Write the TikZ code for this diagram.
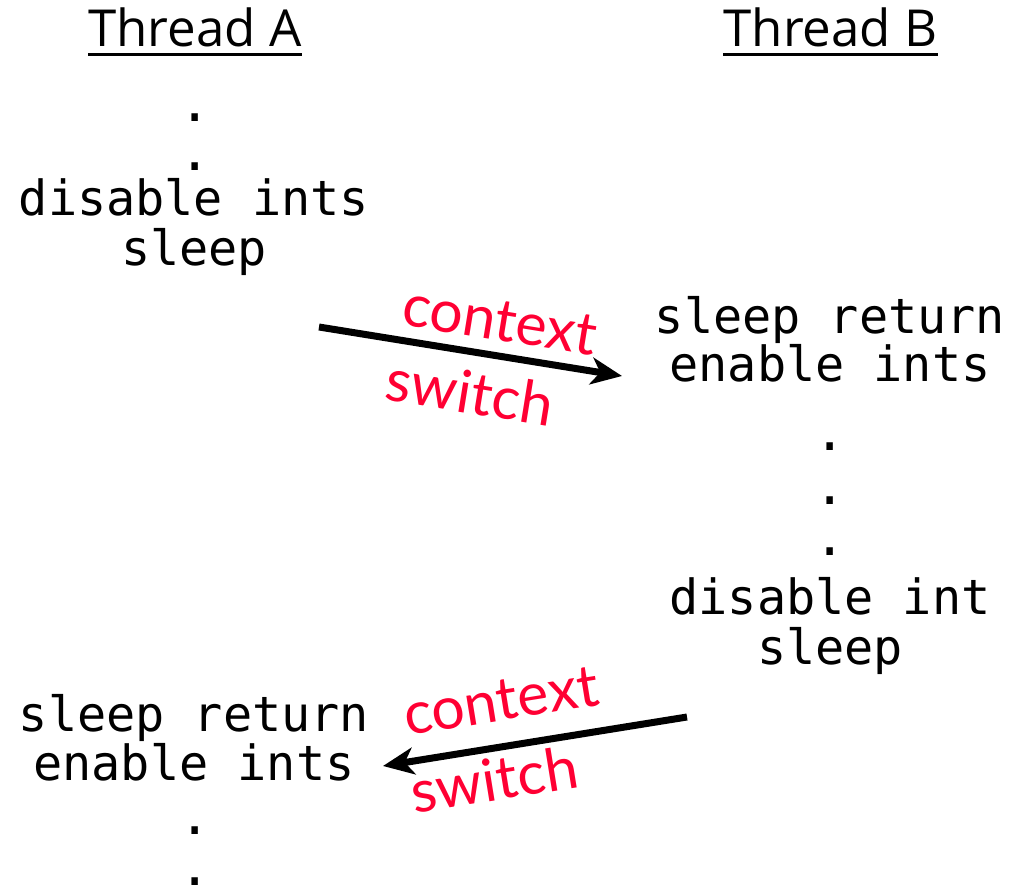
\documentclass[tikz,border=0pt]{standalone}
\usepackage{fontspec}
\setmainfont{DejaVu Sans Mono}
\newfontfamily\headfont{Open Sans}
\newfontfamily\redfont{Lato}
\newfontfamily\codefont{DejaVu Sans Mono}
\usetikzlibrary{arrows.meta}
\definecolor{cred}{RGB}{255,0,51}
\begin{document}
\begin{tikzpicture}[x=1pt,y=1pt,
  code/.style={anchor=base,inner sep=0pt,font=\codefont\fontsize{48.5}{50}\selectfont},
  dotmark/.style={code,font=\codefont\fontsize{52}{54}\selectfont},
  head/.style={anchor=base,inner sep=0pt,font=\headfont\fontsize{51}{54}\selectfont},
  redlbl/.style={inner sep=0pt,text=cred,font=\redfont\fontsize{59}{60}\selectfont},
  uline/.style={line width=2.8pt},
  ctxarrow/.style={line width=7pt,-{Stealth[length=31pt,width=27pt,inset=9pt]}}]
\useasboundingbox (0,0) rectangle (1012,884);
% headers
\node[head] (ta) at (195,837) {Thread A};
\node[head] (tb) at (830.5,837) {Thread B};
\draw[uline] ([yshift=-7.5pt]ta.base west) -- ([yshift=-7.5pt]ta.base east);
\draw[uline] ([yshift=-7.5pt]tb.base west) -- ([yshift=-7.5pt]tb.base east);
% thread A top
\node[dotmark] (a1) at (195,762) {.};
\node[dotmark] (a2) at (195,713) {.};
\node[code] (a3) at (194,668) {disable ints};
\node[code] (a4) at (194,618) {sleep};
% thread B
\node[code] (b1) at (830,550) {sleep return};
\node[code] (b2) at (830,502) {enable ints};
\node[dotmark] (b3) at (830,433) {.};
\node[dotmark] (b4) at (830,379) {.};
\node[dotmark] (b5) at (830,328) {.};
\node[code] (b6) at (830,269) {disable int};
\node[code] (b7) at (830,219) {sleep};
% thread A bottom
\node[code] (c1) at (194,153) {sleep return};
\node[code] (c2) at (194,104) {enable ints};
\node[dotmark] (c3) at (195,50) {.};
\node[dotmark] (c4) at (195,-1) {.};
% arrows
\coordinate (s1) at (319,557);
\coordinate (e1) at (622,508);
\coordinate (s2) at (687,167);
\coordinate (e2) at (383,118);
\draw[ctxarrow] (s1) -- (e1);
\draw[ctxarrow] (s2) -- (e2);
% labels
\node[redlbl,rotate=-9.2] (ctx1) at (500,563) {context};
\node[redlbl,rotate=-9.2] (sw1) at (470,492) {switch};
\node[redlbl,rotate=9.2] (ctx2) at (501,183) {context};
\node[redlbl,rotate=9.2] (sw2) at (494,105) {switch};
\end{tikzpicture}
\end{document}
